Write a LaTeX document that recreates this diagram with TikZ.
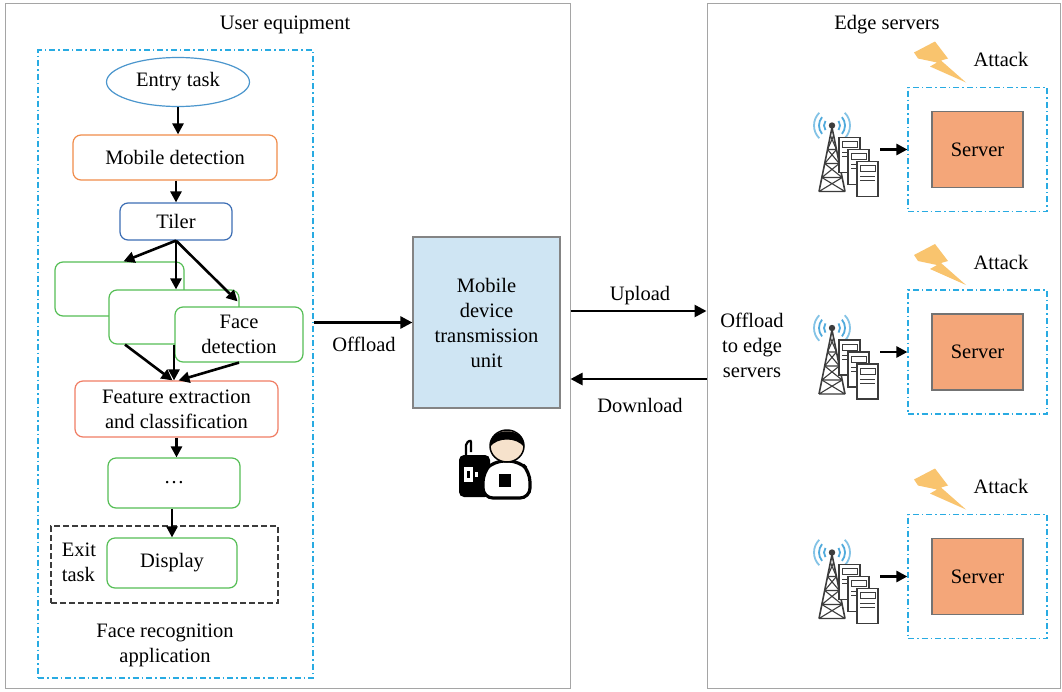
\documentclass[tikz,border=0pt]{standalone}
\usepackage{fontspec}
\setmainfont{Liberation Serif}
\usetikzlibrary{arrows.meta,shapes.geometric,calc}

\definecolor{framegray}{RGB}{165,165,165}
\definecolor{dashblue}{RGB}{41,171,226}
\definecolor{entryblue}{RGB}{75,150,205}
\definecolor{tilerblue}{RGB}{60,110,180}
\definecolor{detorange}{RGB}{240,140,75}
\definecolor{featsalmon}{RGB}{240,125,100}
\definecolor{taskgreen}{RGB}{85,190,85}
\definecolor{unitfill}{RGB}{207,229,243}
\definecolor{serverfill}{RGB}{244,166,121}
\definecolor{boltfill}{RGB}{249,196,110}
\definecolor{radioblue}{RGB}{80,170,220}
\definecolor{towergray}{RGB}{60,60,60}
\definecolor{skin}{RGB}{246,226,204}

\tikzset{
  arr/.style={line width=2.6pt,-{Triangle[length=12pt,width=12pt]}},
  sharr/.style={line width=2.6pt,-{Triangle[length=11pt,width=11pt]}},
  frame/.style={draw=framegray,line width=1pt,inner sep=0pt},
  dashdot/.style={draw=dashblue,line width=1.2pt,dash pattern=on 6pt off 3pt on 1.5pt off 3pt,inner sep=0pt},
  task/.style={draw,rounded corners=8pt,line width=1.2pt,fill=white,align=center,inner sep=0pt},
  lbl/.style={align=center,inner sep=0pt},
}

\begin{document}
\begin{tikzpicture}[x=1pt,y=-1pt,font=\fontsize{20.5}{25}\selectfont]
\useasboundingbox (0,0) rectangle (1062,691);
\fill[white] (0,0) rectangle (1062,691);

% ---------- two main frames ----------
\node[frame,minimum width=565,minimum height=685] (ue) at (287.5,345.5) {};
\node[frame,minimum width=353,minimum height=685] (es) at (883.5,345.5) {};
\node[lbl] (uelbl) at (285,25) {User equipment};
\node[lbl] (eslbl) at (887,25) {Edge servers};

% ---------- face recognition application ----------
\node[dashdot,minimum width=275,minimum height=628] (app) at (175.5,364) {};
\node[lbl] (applbl) at (165,645) {Face recognition\\application};

\node[ellipse,draw=entryblue,line width=1.2pt,minimum width=143,minimum height=49,inner sep=0pt] (entry) at (178,82) {Entry task};
\node[task,draw=detorange,minimum width=204,minimum height=45] (mobdet) at (175,157.5) {Mobile detection};
\node[task,draw=tilerblue,minimum width=112,minimum height=37] (tiler) at (176,221.5) {Tiler};

\node[task,draw=taskgreen,minimum width=129,minimum height=54] (g1) at (119.5,289) {};
\node[task,draw=taskgreen,minimum width=130,minimum height=54] (g2) at (174,317) {};
\node[task,draw=taskgreen,minimum width=128,minimum height=55] (face) at (239,334.5) {Face\\detection};

\node[task,draw=featsalmon,minimum width=203,minimum height=56] (feat) at (176.5,409) {Feature extraction\\and classification};
\node[task,draw=taskgreen,minimum width=132,minimum height=50] (dots) at (174,483) {\ldots};

\node[draw=towergray,line width=1.2pt,dash pattern=on 6pt off 3pt,minimum width=227,minimum height=77,inner sep=0pt] (exitbox) at (164.5,564.5) {};
\node[task,draw=taskgreen,minimum width=130,minimum height=50] (display) at (172,563) {Display};
\node[lbl,align=left] (exitlbl) at (79,562) {Exit\\task};

% flow arrows
\draw[sharr] (entry.south) -- (entry.south |- mobdet.north);
\draw[sharr] (mobdet.south -| tiler.north) -- (tiler.north);
\draw[sharr] (tiler.south) -- ([xshift=4pt]g1.north);
\draw[sharr] (tiler.south) -- (tiler.south |- g2.north);
\draw[sharr] (tiler.south) -- ([xshift=-2pt,yshift=-12pt]g2.north east);
\draw[sharr] ([xshift=-49pt]g2.south) -- ([xshift=-4pt]feat.north);
\draw[sharr] (g2.south) -- (g2.south |- feat.north);
\draw[sharr] (face.south) -- ([xshift=2pt]feat.north);
\draw[sharr] (feat.south) -- (feat.south |- dots.north);
\draw[sharr] ([xshift=-2pt]dots.south) -- ([xshift=-2pt]dots.south |- display.north);

% ---------- mobile device transmission unit ----------
\node[draw=framegray!80!black,line width=1.2pt,fill=unitfill,minimum width=147,minimum height=171,align=center,inner sep=0pt] (mdtu) at (486.5,322.5) {Mobile\\device\\transmission\\unit};

\draw[arr] (app.east |- mdtu.west) -- (mdtu.west);
\node[lbl] (offlbl) at (364,344) {Offload};

\coordinate (upY) at (0,311);
\coordinate (dnY) at (0,379);
\draw[arr] (ue.east |- upY) -- (es.west |- upY);
\draw[arr] (es.west |- dnY) -- (ue.east |- dnY);
\node[lbl] (uplbl) at (640,296) {Upload};
\node[lbl] (dnlbl) at (640,405) {Download};
\node[lbl] (edgelbl) at (752,345) {Offload\\to edge\\servers};

% ---------- user with handset ----------
\begin{scope}
  % handset
  \draw[black,line width=2.2pt,rounded corners=2pt] (466,458) -- (466,443) -- (471,440) -- (471,452);
  \fill[black,rounded corners=5pt] (459,455) rectangle (490,497);
  \fill[white] (464,467) rectangle (473,482);
  \fill[black] (467,471) rectangle (470,478);
  \fill[white] (475,472) rectangle (478,477);
  % body
  \draw[black,line width=3.2pt,fill=white,rounded corners=10pt] (483,498) -- (483,472) -- (494,461) -- (519,461) -- (530,472) -- (530,498) -- cycle;
  \fill[black] (499,474) rectangle (511,487);
  % head
  \fill[skin,draw=black,line width=1.5pt] (507,446) ellipse (17pt and 16pt);
  \fill[black] (490,447) .. controls (488,426) and (526,426) .. (524,447) .. controls (517,437) and (497,437) .. (490,447) -- cycle;
\end{scope}

% ---------- edge servers ----------
\foreach \cy/\id in {149.5/1,352/2,576.5/3}{
  \node[dashdot,minimum width=139,minimum height=124] (zone\id) at (977.5,\cy) {};
  \node[draw=black!55,line width=1.2pt,fill=serverfill,minimum width=91,minimum height=76,inner sep=0pt] (srv\id) at (977.5,\cy) {Server};
  \node[lbl] (atk\id) at (1001,\cy-90) {Attack};
  % lightning bolt
  \begin{scope}[shift={(914,\cy-108)}]
    \fill[boltfill] (0,11) -- (21,0) -- (34,17) -- (27,19) -- (52,41) -- (16,25) -- (23,21) -- (4,17) -- cycle;
  \end{scope}
  % radio tower with handsets
  \begin{scope}[shift={(812,\cy-38)}]
    \draw[radioblue,line width=1.8pt] (20,14) ++(145:8) arc (145:215:8);
    \draw[radioblue,line width=1.8pt] (20,14) ++(140:13) arc (140:220:13);
    \draw[radioblue,line width=1.8pt,opacity=0.7] (20,14) ++(135:18) arc (135:225:18);
    \draw[radioblue,line width=1.8pt] (20,14) ++(-35:8) arc (-35:35:8);
    \draw[radioblue,line width=1.8pt] (20,14) ++(-40:13) arc (-40:40:13);
    \draw[radioblue,line width=1.8pt,opacity=0.7] (20,14) ++(-45:18) arc (-45:45:18);
    \draw[towergray,line width=1.6pt] (7,80) -- (20,16) -- (33,80);
    \foreach \ya/\yb in {24/38,38/52,52/66,66/80}{
      \pgfmathsetmacro{\la}{20-13*(\ya-16)/64}
      \pgfmathsetmacro{\ra}{20+13*(\ya-16)/64}
      \pgfmathsetmacro{\lb}{20-13*(\yb-16)/64}
      \pgfmathsetmacro{\rb}{20+13*(\yb-16)/64}
      \draw[towergray,line width=1.1pt] (\la,\ya) -- (\rb,\yb) (\ra,\ya) -- (\lb,\yb) (\lb,\yb) -- (\rb,\yb);
    }
    \fill[towergray] (20,14) circle (3.2pt);
    \foreach \dx/\dy in {0/0,9/12,18/24}{
      \draw[towergray,line width=1.3pt,fill=white] (27+\dx,26+\dy) rectangle (48+\dx,61+\dy);
      \draw[towergray,line width=1pt] (30+\dx,30+\dy) rectangle (45+\dx,36+\dy);
      \draw[towergray,line width=0.8pt] (30+\dx,41+\dy) -- (45+\dx,41+\dy) (30+\dx,45+\dy) -- (45+\dx,45+\dy);
    }
    \coordinate (tw\id) at (68,38);
  \end{scope}
  \draw[sharr] (tw\id) -- (zone\id.west |- tw\id);
}
\end{tikzpicture}
\end{document}
